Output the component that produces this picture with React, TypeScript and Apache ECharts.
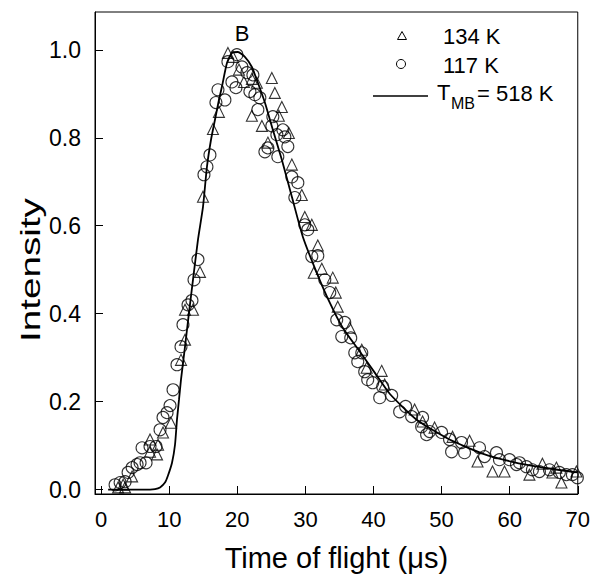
import React, { useEffect, useRef } from "react";
import * as echarts from "echarts";

// Tick values
const xTickValues = [0, 10, 20, 30, 40, 50, 60, 70];
const yTickValues = [0, 0.2, 0.4, 0.6, 0.8, 1.0];

// Legend entries
const legendLabels = ["134 K", "117 K"];
const fitLabelMain = "T";
const fitLabelSub = "MB";
const fitLabelTail = "= 518 K";

// 117 K (circles)
const circleX = [2.05, 2.79, 3.52, 3.96, 4.55, 5.28, 5.72, 6.6, 6.01, 7.18, 8.06, 8.65, 9.09, 9.68, 10.12, 10.56, 11.14, 11.73, 12.02, 12.76, 13.34, 13.64, 14.22, 15.1, 15.54, 15.98, 16.86, 17.16, 18.18, 18.62, 19.21, 19.8, 19.94, 20.68, 21.41, 22.29, 21.85, 22.58, 23.31, 23.02, 25.22, 25.07, 26.69, 25.81, 26.98, 24.49, 24.05, 27.42, 25.95, 28.01, 28.89, 28.45, 29.91, 30.35, 30.94, 31.82, 32.85, 33.58, 34.6, 35.78, 35.34, 36.66, 37.25, 38.28, 37.69, 38.71, 39.15, 39.88, 41.35, 40.91, 42.67, 43.84, 44.72, 45.6, 47.21, 47.07, 47.8, 48.24, 50.0, 51.17, 51.47, 52.93, 53.37, 55.57, 56.31, 58.06, 58.5, 59.97, 61.0, 61.44, 62.46, 63.34, 64.37, 65.84, 67.3, 68.33, 69.21, 69.94];
const circleY = [0.011, 0.016, 0.018, 0.039, 0.05, 0.057, 0.061, 0.061, 0.095, 0.098, 0.098, 0.136, 0.164, 0.175, 0.191, 0.227, 0.284, 0.325, 0.375, 0.42, 0.43, 0.477, 0.523, 0.716, 0.734, 0.761, 0.88, 0.909, 0.886, 0.973, 0.927, 0.914, 0.989, 0.961, 0.948, 0.943, 0.905, 0.898, 0.891, 0.864, 0.848, 0.827, 0.818, 0.807, 0.802, 0.777, 0.768, 0.78, 0.757, 0.711, 0.698, 0.664, 0.602, 0.591, 0.53, 0.532, 0.477, 0.448, 0.386, 0.38, 0.348, 0.345, 0.311, 0.311, 0.291, 0.268, 0.25, 0.243, 0.234, 0.209, 0.214, 0.177, 0.189, 0.166, 0.164, 0.143, 0.125, 0.132, 0.13, 0.114, 0.086, 0.107, 0.084, 0.095, 0.075, 0.084, 0.068, 0.068, 0.057, 0.061, 0.052, 0.045, 0.041, 0.045, 0.039, 0.034, 0.034, 0.027];

// 134 K (triangles)
const triangleX = [2.49, 3.23, 3.52, 4.55, 7.18, 7.18, 8.21, 8.36, 9.09, 10.26, 11.73, 12.32, 12.32, 13.49, 14.52, 14.96, 16.42, 17.3, 18.62, 19.36, 20.24, 20.97, 22.14, 22.87, 22.14, 23.61, 24.49, 25.07, 25.51, 26.54, 26.1, 27.57, 28.01, 29.47, 29.91, 30.94, 31.82, 31.23, 32.41, 34.02, 34.46, 34.75, 36.51, 38.28, 39.0, 41.2, 41.64, 46.04, 47.21, 48.97, 51.61, 54.11, 55.28, 57.48, 59.24, 62.9, 64.81, 66.28, 66.86, 67.6, 69.8];
const triangleY = [0.005, 0.011, 0.005, 0.03, 0.086, 0.114, 0.08, 0.102, 0.13, 0.152, 0.295, 0.341, 0.409, 0.409, 0.495, 0.666, 0.82, 0.859, 0.993, 0.984, 0.955, 0.927, 0.934, 0.925, 0.85, 0.827, 0.789, 0.936, 0.902, 0.87, 0.85, 0.811, 0.739, 0.67, 0.62, 0.602, 0.555, 0.493, 0.502, 0.482, 0.448, 0.416, 0.368, 0.318, 0.277, 0.27, 0.239, 0.182, 0.155, 0.141, 0.12, 0.111, 0.064, 0.041, 0.041, 0.034, 0.059, 0.039, 0.05, 0.016, 0.041];

// T_MB = 518 K fit
const fitX = [1.03, 7.18, 7.92, 8.65, 9.38, 9.82, 10.41, 10.85, 11.14, 11.44, 11.73, 12.32, 12.9, 13.49, 14.22, 14.96, 15.54, 16.13, 16.72, 17.3, 17.74, 18.48, 19.21, 20.09, 21.11, 22.14, 23.02, 24.05, 25.22, 26.54, 28.01, 29.62, 31.67, 33.58, 35.48, 37.98, 40.18, 42.38, 46.33, 51.17, 56.01, 61.0, 65.84, 69.94];
const fitY = [0, 0, 0.001, 0.005, 0.016, 0.032, 0.061, 0.102, 0.159, 0.205, 0.25, 0.325, 0.402, 0.477, 0.568, 0.643, 0.734, 0.795, 0.841, 0.886, 0.916, 0.97, 0.993, 0.995, 0.984, 0.961, 0.925, 0.88, 0.818, 0.75, 0.666, 0.575, 0.493, 0.425, 0.368, 0.314, 0.266, 0.218, 0.159, 0.114, 0.082, 0.061, 0.048, 0.039];

const zip = (xs: number[], ys: number[]) => xs.map((x, i) => [x, ys[i]]);

const FONT = "Liberation Sans, Arial, Helvetica, sans-serif";

export default function App() {
  const ref = useRef<HTMLDivElement>(null);
  useEffect(() => {
    if (!ref.current) return;
    const chart = echarts.init(ref.current, undefined, { renderer: "svg" });
    const hollow = {
      color: "rgba(0,0,0,0)",
      borderColor: "#000",
      borderWidth: 1.1,
    };
    const txt = (text: string, x: number, y: number, size: number) => ({
      type: "text",
      x,
      y,
      style: {
        text,
        fontFamily: FONT,
        fontSize: size,
        fill: "#000",
        align: "left",
        verticalAlign: "middle",
      },
    });
    chart.setOption({
      animation: false,
      backgroundColor: "#fff",
      textStyle: { fontFamily: FONT, color: "#000" },
      grid: {
        left: 95,
        right: 14,
        top: 12,
        bottom: 83,
        show: true,
        borderColor: "#000",
        borderWidth: 1,
        containLabel: false,
      },
      xAxis: {
        type: "value",
        min: -0.9,
        max: 70,
        name: "Time of flight (μs)",
        nameLocation: "middle",
        nameGap: 49,
        nameTextStyle: { fontFamily: FONT, fontSize: 29, color: "#000" },
        axisLine: { show: true, onZero: false, lineStyle: { color: "#000", width: 1 } },
        axisTick: {
          show: true,
          inside: true,
          length: 8,
          customValues: xTickValues,
          lineStyle: { color: "#000" },
        },
        axisLabel: {
          customValues: xTickValues,
          fontFamily: FONT,
          fontSize: 22,
          color: "#000",
          margin: 14,
        },
        splitLine: { show: false },
      },
      yAxis: {
        type: "value",
        min: -0.01,
        max: 1.086,
        axisLine: { show: true, onZero: false, lineStyle: { color: "#000", width: 1 } },
        axisTick: {
          show: true,
          inside: true,
          length: 8,
          customValues: yTickValues,
          lineStyle: { color: "#000" },
        },
        axisLabel: {
          customValues: yTickValues,
          fontFamily: FONT,
          fontSize: 23,
          color: "#000",
          margin: 14,
          formatter: (v: number) => v.toFixed(1),
        },
        splitLine: { show: false },
      },
      graphic: [
        {
          type: "text",
          x: 242,
          y: 33,
          style: {
            text: "B",
            fontFamily: FONT,
            fontSize: 22,
            fill: "#000",
            align: "center",
            verticalAlign: "middle",
          },
        },
        {
          type: "text",
          x: 30,
          y: 270,
          rotation: Math.PI / 2,
          scaleX: 1.38,
          style: {
            text: "Intensity",
            fontFamily: FONT,
            fontSize: 28,
            fill: "#000",
            align: "center",
            verticalAlign: "middle",
          },
        },
        // legend: 134 K
        {
          type: "polygon",
          shape: { points: [[397.5, 39.5], [406.5, 39.5], [402, 31.5]] },
          style: { fill: "none", stroke: "#000", lineWidth: 1 },
        },
        txt(legendLabels[0], 443, 36, 22),
        // legend: 117 K
        {
          type: "circle",
          shape: { cx: 401, cy: 64, r: 4.5 },
          style: { fill: "none", stroke: "#000", lineWidth: 1 },
        },
        txt(legendLabels[1], 443, 65, 22),
        // legend: fit
        {
          type: "line",
          shape: { x1: 373, y1: 96, x2: 428, y2: 96 },
          style: { stroke: "#000", lineWidth: 1.7 },
        },
        txt(fitLabelMain, 437, 92, 22),
        txt(fitLabelSub, 451, 103, 16),
        txt(fitLabelTail, 477, 93, 22),
      ],
      series: [
        {
          name: "134 K",
          type: "scatter",
          symbol: "triangle",
          symbolSize: 11,
          itemStyle: hollow,
          data: zip(triangleX, triangleY),
          z: 2,
        },
        {
          name: "117 K",
          type: "scatter",
          symbol: "circle",
          symbolSize: 12,
          itemStyle: hollow,
          data: zip(circleX, circleY),
          z: 2,
        },
        {
          name: "T_MB = 518 K",
          type: "line",
          symbol: "none",
          showSymbol: false,
          smooth: 0.2,
          lineStyle: { color: "#000", width: 1.8 },
          itemStyle: { color: "#000" },
          data: zip(fitX, fitY),
          z: 3,
        },
      ],
    });
    return () => chart.dispose();
  }, []);
  return (
    <div
      ref={ref}
      style={{ position: "absolute", left: 0, top: 0, width: 593, height: 577 }}
    />
  );
}
